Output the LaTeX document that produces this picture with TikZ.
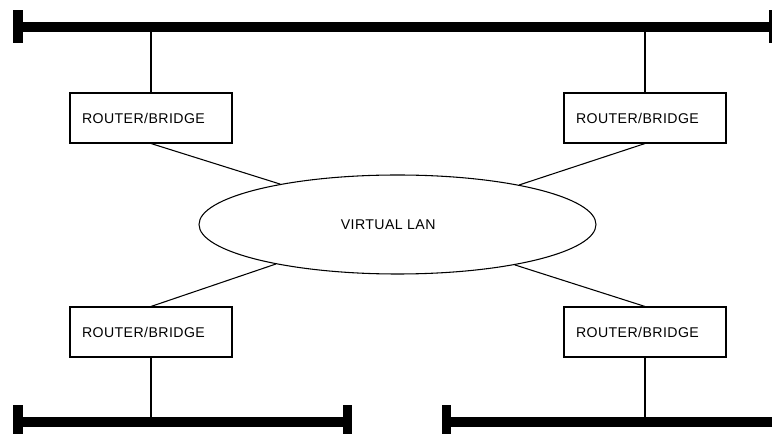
\documentclass[tikz,border=0pt]{standalone}
\usepackage{fontspec}
\setmainfont{Liberation Sans}
\usetikzlibrary{shapes.geometric}
\begin{document}
\begin{tikzpicture}[x=0.75pt,y=-0.75pt,
  thin link/.style={draw=black,line width=0.8pt},
  bus/.style={draw=black,line width=6.8pt},
  buscap/.style={fill=black},
  rb/.style={draw=black,line width=0.8pt,rectangle,text width=138*0.75pt,
    inner xsep=12*0.75pt,inner ysep=0pt,minimum height=50*0.75pt,align=left,
    font=\fontsize{10.6}{12}\selectfont\addfontfeature{LetterSpace=3}},
  vlan/.style={draw=black,line width=0.8pt,ellipse,inner sep=0pt,
    minimum width=397*0.75pt,minimum height=99*0.75pt,
    font=\fontsize{10.6}{12}\selectfont\addfontfeature{LetterSpace=3}}]
\useasboundingbox (0,0) rectangle (772,434);

% backbone segments
\coordinate (top-l) at (18,27);
\coordinate (top-r) at (772,27);
\coordinate (bl-l) at (18,422);
\coordinate (bl-r) at (347,422);
\coordinate (br-l) at (447,422);
\coordinate (br-r) at (772,422);
\draw[bus] (top-l) -- (top-r);
\draw[bus] (bl-l) -- (bl-r);
\draw[bus] (br-l) -- (br-r);
% terminators
\fill[buscap] (13,10) rectangle (23,43);
\fill[buscap] (769,10) rectangle (778,43);
\fill[buscap] (13,405) rectangle (23,440);
\fill[buscap] (343,405) rectangle (352,440);
\fill[buscap] (442,405) rectangle (451,440);

% routers
\node[rb] (r1) at (151,118) {ROUTER/BRIDGE};
\node[rb] (r2) at (645,118) {ROUTER/BRIDGE};
\node[rb] (r3) at (151,332) {ROUTER/BRIDGE};
\node[rb] (r4) at (645,332) {ROUTER/BRIDGE};

% virtual LAN cloud
\node[vlan] (lan) at (397.5,224.5) {VIRTUAL LAN\hspace*{14pt}};

% drops to the backbone
\draw[thin link] (r1.north) -- (r1.north |- top-l);
\draw[thin link] (r2.north) -- (r2.north |- top-l);
\draw[thin link] (r3.south) -- (r3.south |- bl-l);
\draw[thin link] (r4.south) -- (r4.south |- br-l);

% links into the virtual LAN
\draw[thin link] (r1.south) -- (lan.161.7);
\draw[thin link] (r2.south) -- (lan.18.3);
\draw[thin link] (r3.north) -- (lan.198.3);
\draw[thin link] (r4.north) -- (lan.341.7);
\end{tikzpicture}
\end{document}
